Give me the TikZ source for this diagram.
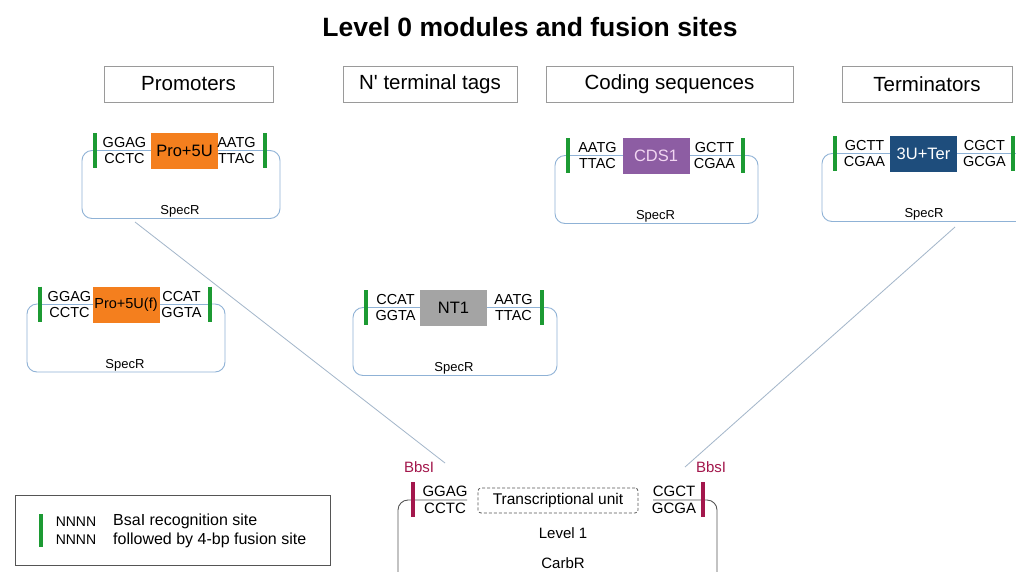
\documentclass[tikz,border=0pt]{standalone}
\usepackage{fontspec}
\setmainfont{Liberation Sans}
\newfontfamily\plainsans{Liberation Sans}[Ligatures=ResetAll]
\definecolor{gbar}{HTML}{1C9A33}
\definecolor{rbar}{HTML}{A3174C}
\definecolor{loop}{HTML}{8FB2D6}
\definecolor{proC}{HTML}{F47F1E}
\definecolor{cdsC}{HTML}{8D5DA3}
\definecolor{cdsT}{HTML}{F2D6F2}
\definecolor{ntC}{HTML}{A4A4A4}
\definecolor{terC}{HTML}{1E4D7C}
\definecolor{diag}{HTML}{A3B6CA}
\definecolor{hdr}{HTML}{9A9A9A}
\definecolor{dk}{HTML}{555555}
\tikzset{
  seq/.style={inner sep=0pt, font=\fontsize{14.5}{15}\selectfont},
  partbox/.style={minimum width=67pt, minimum height=36pt, inner sep=0pt, font=\fontsize{16.5}{17}\selectfont},
  gb/.style={draw=gbar, line width=4pt},
  rb/.style={draw=rbar, line width=4pt},
  loopline/.style={draw=loop, line width=0.9pt, rounded corners=10pt},
  hbox/.style={draw=hdr, line width=0.8pt, minimum height=36pt, inner sep=0pt, font=\fontsize{20.5}{21}\selectfont},
  res/.style={inner sep=0pt, font=\fontsize{13}{14}\selectfont},
  connect/.style={draw=diag, line width=0.8pt}
}
% #1 prefix, #2 left bar x, #3 right bar x, #4 mid y, #5 box centre x, #6 box style, #7 box text, #8 left seqs, #9 right seqs
\newcommand\lzero[9]{%
  \draw[loopline] ({#2},{#4}) -- ({#2-13},{#4}) -- ({#2-13},{#4+68}) -- ({#3+15},{#4+68}) -- ({#3+15},{#4}) -- ({#3},{#4});
  \draw[draw=loop, line width=0.9pt] ({#2},{#4}) -- ({#3},{#4});
  \node[partbox,#6] (#1box) at ({#5},{#4+0.5}) {#7};
  \path[gb] ({#2},{#4-17.5}) coordinate (#1lbt) -- ({#2},{#4+17.5}) coordinate (#1lbb);
  \path[gb] ({#3},{#4-17.5}) coordinate (#1rbt) -- ({#3},{#4+17.5}) coordinate (#1rbb);
  \lseqs{#1}{#2}{#3}{#4}#8#9%
  \node[res] (#1res) at ({(#2+#3)/2},{#4+61}) {SpecR};
}
\newcommand\lseqs[8]{%
  \node[seq] (#1lt) at ({#2+29.5},{#4-7.5}) {#5};
  \node[seq] (#1lb) at ({#2+29.5},{#4+8.5}) {#6};
  \node[seq] (#1rt) at ({#3-28.5},{#4-7.5}) {#7};
  \node[seq] (#1rb) at ({#3-28.5},{#4+8.5}) {#8};
}
\begin{document}
\begin{tikzpicture}[x=1pt,y=-1pt]
\useasboundingbox (0,0) rectangle (1016,571);
\clip (0,0) rectangle (1016,571);
\fill[white] (0,0) rectangle (1016,571);

% title
\node[font=\bfseries\fontsize{26.5}{28}\selectfont] (title) at (530,27) {Level 0 modules and fusion sites};

% headers
\node[hbox, minimum width=169pt] (hpro) at (188.5,84) {Promoters};
\node[hbox, minimum width=174pt] (hnt) at (430,84) {N{\plainsans\textquotesingle} terminal tags};
\node[hbox, minimum width=247pt] (hcds) at (669.5,84) {Coding sequences};
\node[hbox, minimum width=170pt] (hter) at (927,84) {Terminators};

% connectors (drawn first so plasmids sit above)
\coordinate (p1out) at (135,222);
\coordinate (p5out) at (955,227);
\coordinate (l1inL) at (445,463);
\coordinate (l1inR) at (685,467);
\draw[connect] (p1out) -- (l1inL);
\draw[connect] (p5out) -- (l1inR);

% level 0 plasmids
\lzero{pa}{95}{265}{150.5}{184.5}{fill=proC}{Pro+5U}{{GGAG}{CCTC}}{{AATG}{TTAC}}
\lzero{pb}{40}{210}{304}{126}{fill=proC, font=\fontsize{14.5}{15}\selectfont}{Pro+5U(f)}{{GGAG}{CCTC}}{{CCAT}{GGTA}}
\lzero{pc}{366}{542}{307.5}{453.5}{fill=ntC}{NT1}{{CCAT}{GGTA}}{{AATG}{TTAC}}
\lzero{pd}{568}{743}{155.5}{656}{fill=cdsC, text=cdsT}{CDS1}{{AATG}{TTAC}}{{GCTT}{CGAA}}
\lzero{pe}{835}{1013}{153.5}{923.5}{fill=terC, text=white}{3U+Ter}{{GCTT}{CGAA}}{{CGCT}{GCGA}}

% level 1
\draw[draw=dk, line width=0.9pt, rounded corners=10pt] (467,500) -- (398,500) -- (398,600) -- (717,600) -- (717,500) -- (653,500);
\path[rb] (413,482) coordinate (l1lt) -- (413,517) coordinate (l1lb);
\path[rb] (703,482) coordinate (l1rt) -- (703,517) coordinate (l1rb);
\node[text=rbar, inner sep=0pt, font=\fontsize{15}{16}\selectfont] (bbsL) at (419,467) {BbsI};
\node[text=rbar, inner sep=0pt, font=\fontsize{15}{16}\selectfont] (bbsR) at (711,467) {BbsI};
\node[seq, font=\fontsize{15}{16}\selectfont] (l1a) at (445,491) {GGAG};
\node[seq, font=\fontsize{15}{16}\selectfont] (l1b) at (445,508.5) {CCTC};
\node[seq, font=\fontsize{15}{16}\selectfont] (l1c) at (674,491) {CGCT};
\node[seq, font=\fontsize{15}{16}\selectfont] (l1d) at (674,508.5) {GCGA};
\node[draw=dk, densely dashed, rounded corners=3pt, line width=0.8pt, minimum width=160pt, minimum height=25pt, inner sep=0pt, font=\fontsize{15.5}{16}\selectfont] (tu) at (558,500.5) {Transcriptional unit};
\node[inner sep=0pt, font=\fontsize{15}{16}\selectfont] (lev1) at (563,533) {Level 1};
\node[inner sep=0pt, font=\fontsize{15}{16}\selectfont] (carb) at (563,563) {CarbR};

% legend
\node[draw=dk, line width=0.9pt, minimum width=315pt, minimum height=70pt, inner sep=0pt] (leg) at (172.5,530) {};
\path[gb] (41,514) coordinate (lgt) -- (41,547) coordinate (lgb);
\node[seq, font=\fontsize{14}{15}\selectfont] (n1) at (76,522) {NNNN};
\node[seq, font=\fontsize{14}{15}\selectfont] (n2) at (76,540) {NNNN};
\node[inner sep=0pt, anchor=west, font=\fontsize{16}{17}\selectfont] (lt1) at (113,521) {BsaI recognition site};
\node[inner sep=0pt, anchor=west, font=\fontsize{16}{17}\selectfont] (lt2) at (113,540) {followed by 4-bp fusion site};
\end{tikzpicture}
\end{document}
